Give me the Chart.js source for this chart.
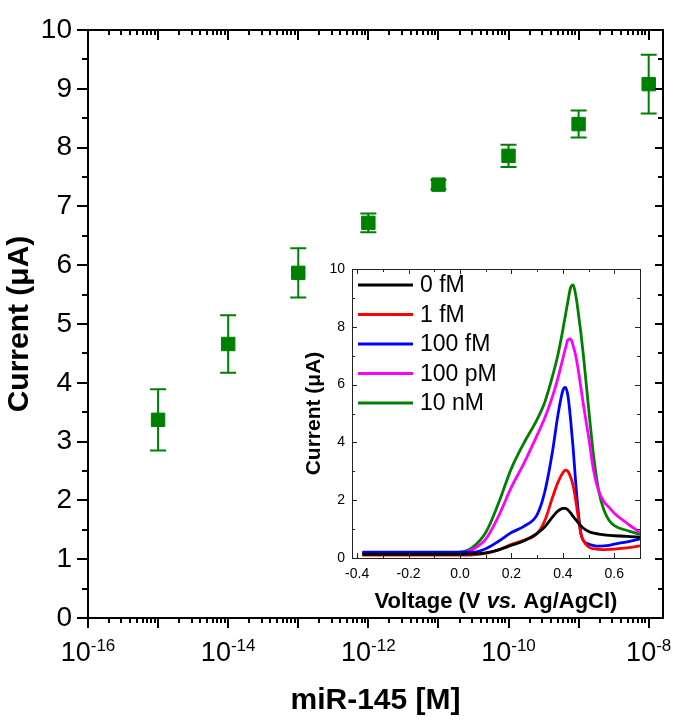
<!DOCTYPE html>
<html><head><meta charset="utf-8">
<script src="https://cdn.jsdelivr.net/npm/chart.js@4.4.0/dist/chart.umd.min.js"></script>
<style>
html,body{margin:0;padding:0;background:#fff;}
#wrap{position:relative;width:675px;height:723px;overflow:hidden;}
#main{position:absolute;left:0;top:0;}
#inset{position:absolute;left:295px;top:255px;}
</style></head><body>
<div id="wrap"><canvas id="main" width="675" height="723"></canvas><canvas id="inset" width="360" height="365"></canvas></div>
<script>
// ---------- main chart data ----------
const concentrations = [1e-15, 1e-14, 1e-13, 1e-12, 1e-11, 1e-10, 1e-9, 1e-8];
const currents       = [3.37, 4.66, 5.87, 6.72, 7.37, 7.86, 8.40, 9.08];
const currentErrors  = [0.52, 0.49, 0.42, 0.16, 0.08, 0.19, 0.23, 0.50];
const yTickValues    = [0, 1, 2, 3, 4, 5, 6, 7, 8, 9, 10];
const xTickExponents = [-16, -14, -12, -10, -8];

// ---------- inset data ----------
const voltages = [-0.38, -0.3, -0.2, -0.1, 0.0, 0.05, 0.1, 0.15, 0.2, 0.25, 0.3, 0.33, 0.36, 0.38, 0.4, 0.41, 0.42, 0.43, 0.44, 0.45, 0.46, 0.47, 0.48, 0.5, 0.52, 0.54, 0.56, 0.58, 0.6, 0.65, 0.7];
const curve0fM   = [0.13, 0.13, 0.13, 0.13, 0.13, 0.14, 0.18, 0.28, 0.44, 0.60, 0.85, 1.08, 1.42, 1.62, 1.72, 1.72, 1.66, 1.56, 1.44, 1.33, 1.22, 1.12, 1.03, 0.92, 0.86, 0.83, 0.80, 0.78, 0.77, 0.75, 0.72];
const curve1fM   = [0.10, 0.10, 0.10, 0.10, 0.10, 0.11, 0.16, 0.28, 0.47, 0.62, 0.85, 1.30, 2.10, 2.60, 2.95, 3.04, 3.00, 2.80, 2.50, 2.00, 1.40, 0.85, 0.60, 0.38, 0.32, 0.30, 0.29, 0.30, 0.31, 0.35, 0.42];
const curve100fM = [0.20, 0.20, 0.20, 0.20, 0.20, 0.20, 0.32, 0.58, 0.88, 1.10, 1.50, 2.30, 3.70, 4.90, 5.80, 5.90, 5.60, 4.80, 3.80, 2.60, 1.60, 0.85, 0.60, 0.48, 0.43, 0.41, 0.42, 0.44, 0.48, 0.56, 0.66];
const curve100pM = [0.15, 0.15, 0.15, 0.15, 0.17, 0.30, 0.65, 1.45, 2.45, 3.30, 4.25, 4.85, 5.60, 6.20, 6.90, 7.25, 7.55, 7.58, 7.35, 7.00, 6.50, 5.90, 5.30, 4.20, 3.00, 2.30, 1.95, 1.75, 1.55, 1.20, 0.88];
const curve10nM  = [0.17, 0.17, 0.17, 0.17, 0.20, 0.38, 0.88, 1.90, 3.10, 4.00, 4.80, 5.40, 6.30, 7.00, 7.90, 8.40, 8.90, 9.35, 9.45, 9.10, 8.50, 7.80, 7.00, 5.20, 3.50, 2.30, 1.65, 1.30, 1.12, 0.95, 0.82];
const curveLabels = ['0 fM', '1 fM', '100 fM', '100 pM', '10 nM'];
const curveColors = ['#000000', '#ff0000', '#0000ff', '#ff00ff', '#008000'];
const insetXTicks = [-0.4, -0.2, 0.0, 0.2, 0.4, 0.6];
const insetYTicks = [0, 2, 4, 6, 8, 10];

const FAMILY = "'Liberation Sans', Arial, Helvetica, sans-serif";
Chart.defaults.font.family = FAMILY;
Chart.defaults.color = '#000';
const GREEN = '#008000';

// ---------- main chart plugins ----------
const errorBars = {
  id: 'errorBars',
  beforeDatasetsDraw(chart) {
    const {ctx, scales: {x, y}} = chart;
    ctx.save();
    ctx.strokeStyle = GREEN; ctx.lineWidth = 2;
    concentrations.forEach((c, i) => {
      const px = x.getPixelForValue(c);
      const yt = y.getPixelForValue(currents[i] + currentErrors[i]);
      const yb = y.getPixelForValue(currents[i] - currentErrors[i]);
      ctx.beginPath();
      ctx.moveTo(px, yt); ctx.lineTo(px, yb);
      ctx.moveTo(px - 8, yt); ctx.lineTo(px + 8, yt);
      ctx.moveTo(px - 8, yb); ctx.lineTo(px + 8, yb);
      ctx.stroke();
    });
    ctx.restore();
  }
};

const mainFrame = {
  id: 'mainFrame',
  afterDraw(chart) {
    const {ctx, chartArea: a, scales: {x, y}} = chart;
    ctx.save();
    ctx.strokeStyle = '#000'; ctx.lineWidth = 2;
    ctx.strokeRect(a.left, a.top, a.right - a.left, a.bottom - a.top);
    ctx.beginPath();
    for (let v = 0; v <= 10; v += 0.5) {
      const py = Math.round(y.getPixelForValue(v));
      const major = Number.isInteger(v);
      ctx.moveTo(a.left, py); ctx.lineTo(a.left - (major ? 11 : 6), py);
      ctx.moveTo(a.right, py); ctx.lineTo(a.right - (major ? 8 : 5), py);
    }
    for (let e = -16; e <= -8; e++) {
      for (let k = 1; k <= 9; k++) {
        const v = k * Math.pow(10, e);
        if (v > x.max * 1.0001) continue;
        const px = Math.round(x.getPixelForValue(v));
        const major = k === 1;
        ctx.moveTo(px, a.bottom); ctx.lineTo(px, a.bottom + (major ? 10 : 5));
        ctx.moveTo(px, a.top); ctx.lineTo(px, a.top + (major ? 10 : 5));
      }
    }
    ctx.stroke();
    // x tick labels with superscript exponents
    ctx.fillStyle = '#000';
    ctx.textBaseline = 'alphabetic';
    ctx.textAlign = 'left';
    xTickExponents.forEach(e => {
      const px = x.getPixelForValue(Math.pow(10, e));
      const base = '10', sup = String(e);
      ctx.font = '27px ' + FAMILY;
      const w1 = ctx.measureText(base).width;
      ctx.font = '17px ' + FAMILY;
      const w2 = ctx.measureText(sup).width;
      const x0 = px - (w1 + w2) / 2;
      ctx.font = '27px ' + FAMILY;
      ctx.fillText(base, x0, 661);
      ctx.font = '17px ' + FAMILY;
      ctx.fillText(sup, x0 + w1, 651);
    });
    ctx.restore();
  }
};

new Chart(document.getElementById('main'), {
  type: 'scatter',
  data: {
    datasets: [{
      label: 'miR-145',
      data: concentrations.map((c, i) => ({x: c, y: currents[i]})),
      pointStyle: 'rect',
      pointRadius: 9.5,
      pointHoverRadius: 9.5,
      borderWidth: 1,
      backgroundColor: GREEN,
      borderColor: GREEN,
      showLine: false
    }]
  },
  options: {
    responsive: false,
    animation: false,
    events: [],
    layout: {padding: {left: 0, top: 15, right: 12, bottom: 0}},
    plugins: {legend: {display: false}, tooltip: {enabled: false}},
    scales: {
      x: {
        type: 'logarithmic', min: 1e-16, max: 1.6e-8,
        afterBuildTicks: s => { s.ticks = xTickExponents.map(e => ({value: Math.pow(10, e), major: true})); },
        ticks: {display: false},
        grid: {display: false, drawTicks: false},
        border: {display: false},
        title: {display: true, text: 'miR-145 [M]', color: '#000', font: {size: 30, weight: 'bold'}, padding: {top: 0, bottom: 4}},
        afterFit: s => { s.height = 105; }
      },
      y: {
        type: 'linear', min: 0, max: 10,
        afterBuildTicks: s => { s.ticks = yTickValues.map(v => ({value: v})); },
        ticks: {font: {size: 28, lineHeight: 1}, color: '#000', padding: 16, callback: v => String(v)},
        grid: {display: false, drawTicks: false},
        border: {display: false},
        title: {display: true, text: 'Current (μA)', color: '#000', font: {size: 30, weight: 'bold'}, padding: {top: 2, bottom: 0}},
        afterFit: s => { s.width = 88; }
      }
    }
  },
  plugins: [errorBars, mainFrame]
});

// ---------- inset plugins ----------
const insetDecor = {
  id: 'insetDecor',
  beforeDraw(chart) {
    const {ctx, chartArea: a} = chart;
    ctx.save();
    ctx.fillStyle = '#fff';
    ctx.fillRect(a.left, a.top, a.right - a.left, a.bottom - a.top);
    ctx.restore();
  },
  afterDraw(chart) {
    const {ctx, chartArea: a, scales: {x, y}} = chart;
    ctx.save();
    ctx.strokeStyle = '#222'; ctx.lineWidth = 1;
    ctx.strokeRect(Math.round(a.left) + 0.5, Math.round(a.top) + 0.5, Math.round(a.right - a.left), Math.round(a.bottom - a.top));
    ctx.beginPath();
    for (let i = -4; i <= 7; i++) {
      const v = i / 10;
      const px = Math.round(x.getPixelForValue(v)) + 0.5;
      const major = (i % 2 === 0);
      const L = major ? 5 : 3;
      ctx.moveTo(px, a.bottom); ctx.lineTo(px, a.bottom - L);
      ctx.moveTo(px, a.top); ctx.lineTo(px, a.top + L);
    }
    for (let v = 0; v <= 10; v++) {
      const py = Math.round(y.getPixelForValue(v)) + 0.5;
      const major = (v % 2 === 0);
      const L = major ? 5 : 3;
      ctx.moveTo(a.left, py); ctx.lineTo(a.left + L, py);
      ctx.moveTo(a.right, py); ctx.lineTo(a.right - L, py);
    }
    ctx.stroke();
    // legend
    chart.data.datasets.forEach((ds, i) => {
      const cy = 30 + i * 29.5;
      ctx.strokeStyle = ds.borderColor; ctx.lineWidth = 3;
      ctx.beginPath(); ctx.moveTo(63, cy); ctx.lineTo(118, cy); ctx.stroke();
      ctx.fillStyle = '#000';
      ctx.font = '23px ' + FAMILY;
      ctx.textBaseline = 'middle'; ctx.textAlign = 'left';
      ctx.fillText(ds.label, 125, cy + 1);
    });
    // x title with italic "vs."
    const parts = [['Voltage (V ', 'bold 22px '], ['vs.', 'italic bold 22px '], [' Ag/AgCl)', 'bold 22px ']];
    let total = 0;
    parts.forEach(p => { ctx.font = p[1] + FAMILY; total += ctx.measureText(p[0]).width; });
    let cx = (a.left + a.right) / 2 - total / 2;
    ctx.fillStyle = '#000'; ctx.textBaseline = 'alphabetic'; ctx.textAlign = 'left';
    parts.forEach(p => { ctx.font = p[1] + FAMILY; ctx.fillText(p[0], cx, 353); cx += ctx.measureText(p[0]).width; });
    ctx.restore();
  }
};

const curves = [curve0fM, curve1fM, curve100fM, curve100pM, curve10nM];
new Chart(document.getElementById('inset'), {
  type: 'line',
  data: {
    datasets: curves.map((c, i) => ({
      label: curveLabels[i],
      data: voltages.map((v, j) => ({x: v, y: c[j]})),
      borderColor: curveColors[i],
      backgroundColor: curveColors[i],
      borderWidth: 2.8,
      pointRadius: 0,
      cubicInterpolationMode: 'monotone',
      fill: false
    }))
  },
  options: {
    responsive: false,
    animation: false,
    events: [],
    layout: {padding: {left: 0, top: 11, right: 15, bottom: 0}},
    plugins: {legend: {display: false}, tooltip: {enabled: false}},
    scales: {
      x: {
        type: 'linear', min: -0.42, max: 0.7,
        afterBuildTicks: s => { s.ticks = insetXTicks.map(v => ({value: v})); },
        ticks: {font: {size: 14, lineHeight: 1}, color: '#000', padding: 9, maxRotation: 0, callback: v => v.toFixed(1)},
        grid: {display: false, drawTicks: false},
        border: {display: false},
        afterFit: s => { s.height = 62; }
      },
      y: {
        type: 'linear', min: 0, max: 10,
        afterBuildTicks: s => { s.ticks = insetYTicks.map(v => ({value: v})); },
        ticks: {font: {size: 14, lineHeight: 1}, color: '#000', padding: 7, callback: v => String(v)},
        grid: {display: false, drawTicks: false},
        border: {display: false},
        title: {display: true, text: 'Current (μA)', color: '#000', font: {size: 21, weight: 'bold'}, padding: {top: 7, bottom: 0}},
        afterFit: s => { s.width = 57; }
      }
    }
  },
  plugins: [insetDecor]
});
</script>
</body></html>
